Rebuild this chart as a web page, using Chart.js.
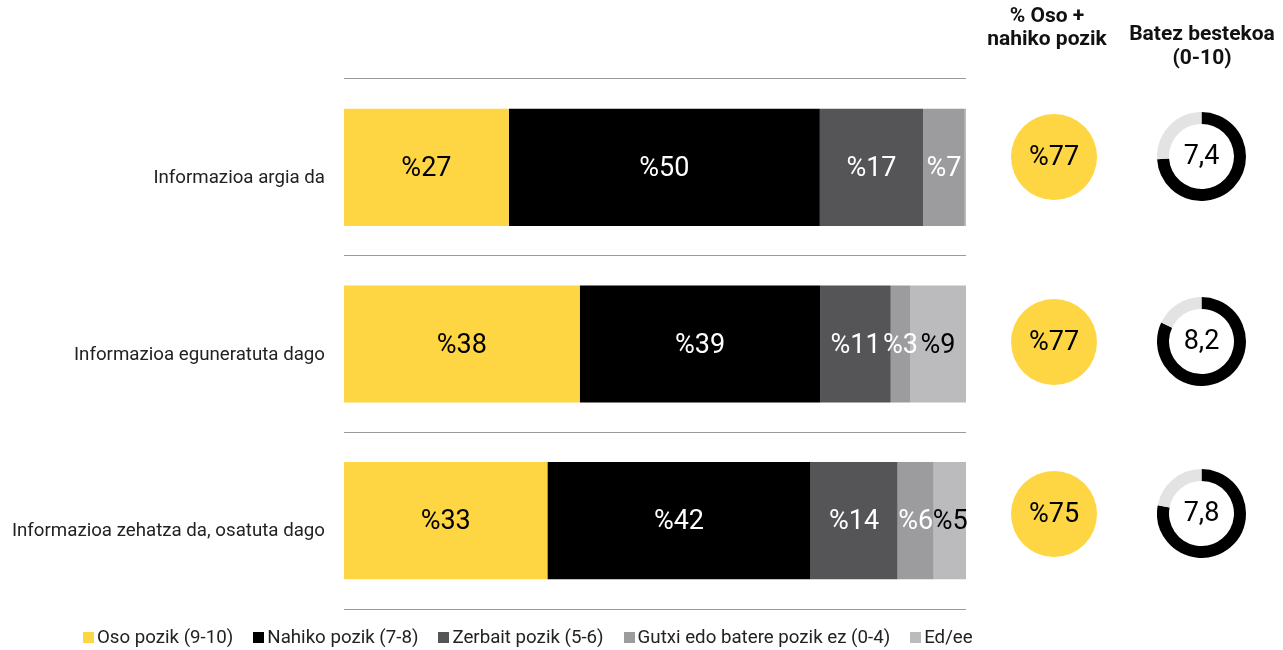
<!DOCTYPE html>
<html>
<head>
<meta charset="utf-8">
<script src="https://cdn.jsdelivr.net/npm/chart.js@4"></script>
<style>
  html, body { margin: 0; padding: 0; background: #fff; }
  body { width: 1283px; height: 650px; position: relative; overflow: hidden; font-family: Roboto, "Noto Sans", sans-serif; }
  canvas { position: absolute; }
  .hdr { position: absolute; font-weight: 700; font-size: 21px; color: #111; text-align: center; white-space: nowrap; transform: translateX(-50%); }
  #legend { position: absolute; left: 83px; top: 627px; display: flex; gap: 20px; font-size: 18.7px; line-height: 20px; color: #222; white-space: nowrap; }
  #legend .it { display: flex; align-items: center; }
  #legend .sq { width: 11px; height: 11px; margin-right: 3px; display: inline-block; }
</style>
</head>
<body>
<canvas id="main" width="1283" height="650" style="left:0;top:0"></canvas>
<div class="hdr" style="left:1047px;top:4px;line-height:23px">% Oso +<br>nahiko pozik</div>
<div class="hdr" style="left:1202px;top:21px;line-height:24px">Batez bestekoa<br>(0-10)</div>
<div id="legend"></div>
<script>
// ---- data ----
const categories = ['Informazioa argia da', 'Informazioa eguneratuta dago', 'Informazioa zehatza da, osatuta dago'];
const seriesNames = ['Oso pozik (9-10)', 'Nahiko pozik (7-8)', 'Zerbait pozik (5-6)', 'Gutxi edo batere pozik ez (0-4)', 'Ed/ee'];
const osoPozik    = [26.5, 37.9, 32.7];
const nahikoPozik = [50.0, 38.7, 42.3];
const zerbaitPozik = [16.6, 11.3, 14.0];
const gutxiPozik  = [6.7, 3.1, 5.8];
const edee        = [0.2, 9.0, 5.3];
const osoNahiko   = [77, 77, 75];      // % Oso + nahiko pozik
const batezBeste  = [7.4, 8.2, 7.8];   // Batez bestekoa (0-10)
const scaleMax    = 10;

// ---- styles ----
const colors = ['#FED643', '#000000', '#555557', '#9C9C9E', '#BBBBBD'];
const labelColors = ['#000000', '#ffffff', '#ffffff', '#ffffff', '#000000'];
const seriesData = [osoPozik, nahikoPozik, zerbaitPozik, gutxiPozik, edee];

const barLabels = {
  id: 'barLabels',
  afterDatasetsDraw(chart) {
    const ctx = chart.ctx;
    chart.data.datasets.forEach((ds, i) => {
      const meta = chart.getDatasetMeta(i);
      meta.data.forEach((bar, j) => {
        const v = ds.data[j];
        if (v < 1) return;
        const p = bar.getProps(['x', 'base', 'y'], true);
        ctx.save();
        ctx.font = '400 27px Roboto';
        ctx.fillStyle = labelColors[i];
        ctx.textAlign = 'center';
        ctx.textBaseline = 'middle';
        ctx.fillText('%' + Math.round(v), (p.x + p.base) / 2, p.y + 2);
        ctx.restore();
      });
    });
  }
};

new Chart(document.getElementById('main'), {
  type: 'bar',
  data: {
    labels: categories,
    datasets: seriesNames.map((n, i) => ({
      label: n,
      data: seriesData[i],
      backgroundColor: colors[i],
      borderWidth: 0,
      categoryPercentage: 1,
      barPercentage: 0.663
    }))
  },
  options: {
    indexAxis: 'y',
    responsive: false,
    animation: false,
    events: [],
    layout: { padding: { top: 79, bottom: 41, left: 0, right: 317 } },
    plugins: { legend: { display: false }, tooltip: { enabled: false } },
    scales: {
      x: { stacked: true, min: 0, max: 100, display: false },
      y: {
        stacked: true,
        afterFit(scale) { scale.width = 344; },
        grid: { offset: true, drawTicks: false, color: '#9a9a9a', lineWidth: 1 },
        border: { display: false },
        ticks: { padding: 19, labelOffset: 11, color: '#222', font: { family: 'Roboto', size: 18.7 } }
      }
    }
  },
  plugins: [barLabels]
});

// ---- circles ----
const centerText = {
  id: 'centerText',
  afterDraw(chart) {
    const ctx = chart.ctx;
    const a = chart.getDatasetMeta(0).data[0];
    ctx.save();
    ctx.font = '400 27px Roboto';
    ctx.fillStyle = '#000';
    ctx.textAlign = 'center';
    ctx.textBaseline = 'middle';
    ctx.fillText(chart.options.plugins.centerText.text, a.x, a.y + 1);
    ctx.restore();
  }
};

const rowCenters = [157, 342, 514];
function addCanvas(cx, cy, d) {
  const c = document.createElement('canvas');
  c.width = d; c.height = d;
  c.style.left = (cx - d / 2) + 'px';
  c.style.top = (cy - d / 2) + 'px';
  document.body.appendChild(c);
  return c;
}

osoNahiko.forEach((v, i) => {
  new Chart(addCanvas(1054, rowCenters[i], 86), {
    type: 'pie',
    data: { labels: ['% Oso + nahiko pozik'], datasets: [{ data: [v], backgroundColor: ['#FED643'], borderWidth: 0 }] },
    options: {
      responsive: false, animation: false, events: [],
      layout: { padding: 0 },
      plugins: { legend: { display: false }, tooltip: { enabled: false }, centerText: { text: '%' + v } }
    },
    plugins: [centerText]
  });
});

batezBeste.forEach((v, i) => {
  new Chart(addCanvas(1201, rowCenters[i] - 1, 89), {
    type: 'doughnut',
    data: { labels: ['Batez bestekoa', ''], datasets: [{ data: [v, scaleMax - v], backgroundColor: ['#000000', '#E3E3E3'], borderWidth: 0 }] },
    options: {
      responsive: false, animation: false, events: [],
      cutout: '73%',
      layout: { padding: 0 },
      plugins: { legend: { display: false }, tooltip: { enabled: false }, centerText: { text: v.toFixed(1).replace('.', ',') } }
    },
    plugins: [centerText]
  });
});

// ---- legend ----
const lg = document.getElementById('legend');
seriesNames.forEach((n, i) => {
  const it = document.createElement('span');
  it.className = 'it';
  it.innerHTML = '<span class="sq" style="background:' + colors[i] + '"></span><span>' + n + '</span>';
  lg.appendChild(it);
});
</script>
</body>
</html>
